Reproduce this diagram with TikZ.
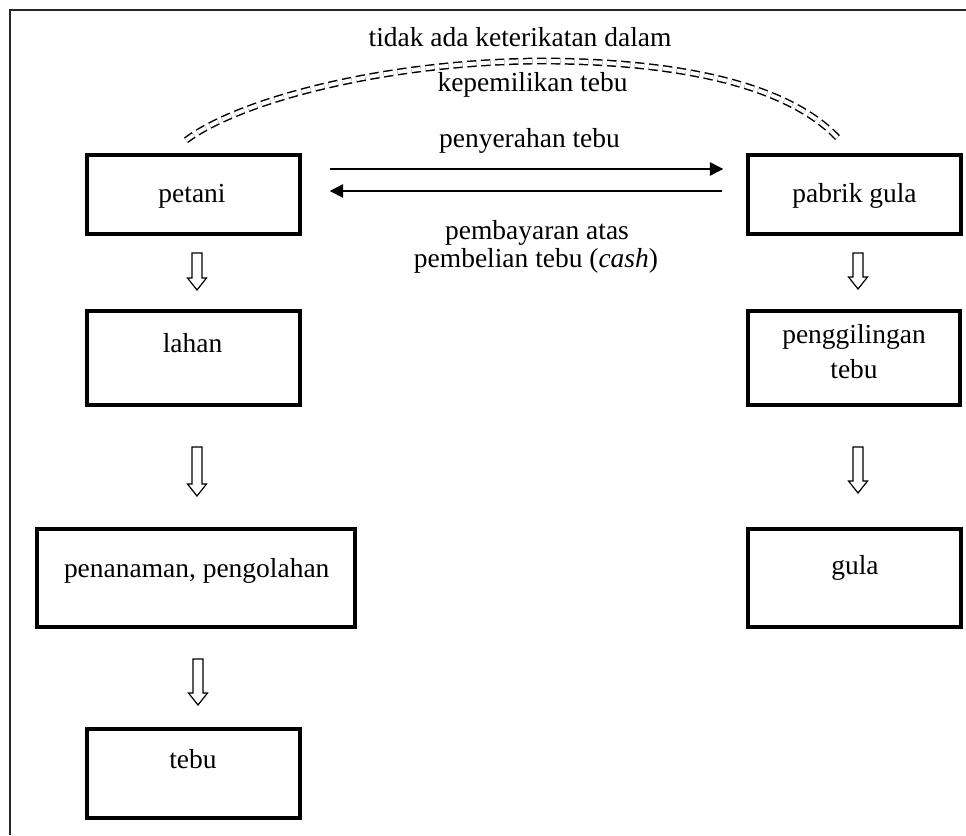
\documentclass[tikz,border=0pt]{standalone}
\usepackage{fontspec}
\setmainfont{Liberation Serif}
\usetikzlibrary{arrows.meta,calc}

\tikzset{
  box/.style={draw, line width=2.6pt, inner sep=0pt},
  txt/.style={font=\fontsize{20.6pt}{26pt}\selectfont, inner sep=0pt, anchor=base},
  frame/.style={line width=1.2pt, draw=black!85},
  flow/.style={line width=1.1pt, -{Triangle[length=10pt,width=10pt]}},
  tie/.style={line width=1.1pt, double distance=2.9pt, dash pattern=on 7pt off 3.5pt},
  pics/hollowdown/.style={code={
    \draw[line width=0.9pt, line join=miter, fill=white]
      (-5,0) -- (5,0) -- (5,#1-12) -- (9.5,#1-12) -- (0,#1)
      -- (-9.5,#1-12) -- (-5,#1-12) -- cycle;
  }},
}

\begin{document}
\begin{tikzpicture}[x={(0.75pt,0)}, y={(0,-0.75pt)}]
  \useasboundingbox (0,0) rectangle (966,835);

  % open frame along the top and left edges
  \draw[frame] (966,10) -- (10,10) -- (10,835);

  % boxes
  \node[box, minimum width=159.75pt, minimum height=59.25pt] (petani) at (193.5,194.5) {};
  \node[box, minimum width=159.75pt, minimum height=59.25pt] (pabrik) at (854.5,194.5) {};
  \node[box, minimum width=159.75pt, minimum height=70.5pt]  (lahan)  at (193.5,358) {};
  \node[box, minimum width=159pt,    minimum height=70.5pt]  (giling) at (854,358) {};
  \node[box, minimum width=238.5pt,  minimum height=73.5pt]  (tanam)  at (196,578) {};
  \node[box, minimum width=159.75pt, minimum height=73.5pt]  (gula)   at (854.5,578) {};
  \node[box, minimum width=159.75pt, minimum height=66.75pt] (tebu)   at (193.5,773.5) {};

  % box labels
  \node[txt] at (192,202) {petani};
  \node[txt] at (854.5,202) {pabrik gula};
  \node[txt] at (192.5,352) {lahan};
  \node[txt] at (854,343) {penggilingan};
  \node[txt] at (854,378) {tebu};
  \node[txt] at (196.7,577) {penanaman, pengolahan};
  \node[txt] at (855,574) {gula};
  \node[txt] at (193,768) {tebu};

  % exchange between farmer and mill
  \draw[flow] ($(petani.east)+(28,-25.5)$) -- ($(pabrik.west)+(-23,-25.5)$);
  \draw[flow] ($(pabrik.west)+(-24,-3.5)$) -- ($(petani.east)+(28,-3.5)$);
  \node[txt] at (529.5,147) {penyerahan tebu};
  \node[txt] at (537,239) {pembayaran atas};
  \node[txt] at (536,267) {pembelian tebu (\textit{cash})};

  % ownership relation
  \coordinate (tieL) at ($(petani.north)+(-7.5,-13)$);
  \coordinate (tieR) at ($(pabrik.north)+(-14.5,-13)$);
  \draw[tie] (tieL) .. controls (240,100) and (385,62) .. (540,61)
             .. controls (680,61) and (790,85) .. (tieR);
  \node[txt] at (520,46) {tidak ada keterikatan dalam};
  \node[txt] at (532.5,91) {kepemilikan tebu};

  % process steps
  \pic at (197,253) {hollowdown=37};
  \pic at (197,447) {hollowdown=49};
  \pic at (198,659) {hollowdown=46};
  \pic at (858,253) {hollowdown=36};
  \pic at (858,447) {hollowdown=46};
\end{tikzpicture}
\end{document}
